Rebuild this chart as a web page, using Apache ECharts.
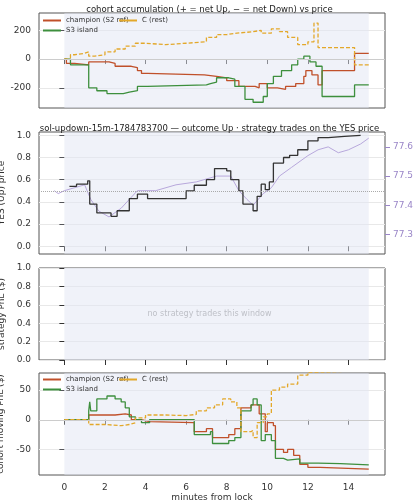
<!DOCTYPE html>
<html><head><meta charset="utf-8">
<script src="https://cdn.jsdelivr.net/npm/echarts@6/dist/echarts.min.js"></script>
<style>html,body{margin:0;padding:0;background:#fff}#c{width:419px;height:500px}</style>
</head><body><div id="c"></div>
<script>
const xTicks=[0,2,4,6,8,10,12,14];
const accChampion=[[0,0],[0.1,-30],[0.5,-40],[1.2,-20],[2.2,-30],[2.5,-50],[3.3,-60],[3.6,-80],[3.8,-100],[4.1,-110],[6.9,-120],[7.5,-130],[8.0,-150],[8.6,-190],[9.4,-200],[9.6,-170],[10.0,-200],[10.5,-210],[10.9,-190],[11.4,-170],[11.8,-120],[11.9,-80],[12.2,-110],[12.5,-180],[12.7,-80],[14.3,40],[15,40]];
const accS3=[[0,0],[0.3,-40],[1.2,-200],[1.6,-220],[2.1,-240],[2.9,-230],[3.2,-220],[3.6,-190],[4.1,-180],[7.0,-170],[7.2,-160],[7.5,-130],[8.1,-140],[8.4,-190],[8.9,-280],[9.3,-300],[9.8,-260],[10.0,-170],[10.3,-120],[10.7,-80],[11.2,-40],[11.5,0],[11.8,20],[12.1,-20],[12.4,-50],[12.7,-260],[14.3,-180],[15,-180]];
const accC=[[0,0],[0.2,10],[0.3,30],[0.5,40],[1.0,50],[1.2,20],[1.5,30],[2.0,50],[2.5,70],[3.0,90],[3.5,110],[4.0,100],[5.0,110],[6.0,120],[7.0,150],[7.5,170],[8.0,180],[8.5,190],[9.3,200],[9.7,180],[10.2,210],[10.6,190],[11.0,150],[11.5,100],[12.0,120],[12.3,250],[12.5,80],[14.3,-40],[15,-40]];
const yesPrice=[[0.25,0.54],[0.6,0.56],[1.15,0.59],[1.25,0.38],[1.6,0.30],[2.3,0.27],[2.6,0.32],[3.2,0.43],[3.6,0.47],[4.1,0.43],[6.0,0.50],[6.4,0.55],[7.0,0.60],[7.4,0.70],[8.0,0.68],[8.2,0.60],[8.6,0.50],[8.8,0.38],[9.3,0.32],[9.5,0.45],[9.7,0.56],[9.9,0.51],[10.1,0.58],[10.3,0.75],[10.8,0.80],[11.1,0.82],[11.5,0.87],[12.0,0.95],[12.5,0.98],[13.0,0.99],[13.8,1.0],[14.6,1.0]];
const solPrice=[[-0.5,77.45],[-0.3,77.44],[0,77.45],[1.0,77.47],[1.3,77.42],[1.7,77.38],[2.2,77.36],[2.8,77.39],[3.2,77.42],[3.6,77.45],[4.5,77.45],[5.5,77.47],[6.5,77.48],[7.5,77.50],[8.2,77.50],[8.6,77.45],[9.0,77.42],[9.3,77.40],[9.8,77.44],[10.2,77.46],[10.6,77.50],[11.2,77.53],[12.0,77.57],[12.5,77.59],[13.0,77.60],[13.5,77.58],[14.0,77.59],[14.6,77.61],[15.0,77.63]];
const pnlChampion=[[0,0],[1.2,8],[2.5,10],[3.0,8],[3.3,0],[3.8,-3],[4.2,-5],[6.4,-20],[7.0,-15],[7.3,-30],[8.1,-25],[8.4,-15],[8.7,20],[9.2,25],[9.6,10],[9.9,-20],[10.0,-5],[10.3,-10],[10.4,-50],[10.8,-55],[11.0,-50],[11.3,-60],[11.6,-75],[12.0,-80],[12.6,-83],[15,-83]];
const pnlS3=[[0,0],[1.2,15],[1.25,30],[1.3,15],[1.6,35],[2.1,40],[2.5,35],[2.8,30],[3.0,20],[3.2,5],[3.5,0],[3.8,-5],[4.2,0],[6.4,-25],[7.2,-20],[7.3,-40],[8.1,-35],[8.4,-30],[8.7,15],[9.2,25],[9.3,35],[9.5,25],[9.7,-35],[9.9,-25],[10.2,-35],[10.4,-65],[10.8,-68],[11.0,-66],[11.6,-73],[12.5,-74],[13.6,-76],[15,-77]];
const pnlC=[[0,0],[1.2,-8],[2.0,-10],[2.8,-8],[3.2,-5],[3.5,3],[4.0,8],[5.0,7],[6.0,9],[6.5,15],[7.0,20],[7.4,25],[7.8,35],[8.2,30],[8.5,20],[8.7,-20],[9.2,-18],[9.3,-30],[9.5,-5],[9.8,5],[10.0,10],[10.2,50],[10.6,55],[11.0,60],[11.5,75],[12.0,80],[12.6,83],[15,85]];

const cCh='#c0502a',cS3='#3d8f3d',cC='#e3a82a',font='DejaVu Sans';
const tops=[13,132,268,373],hs=[95,122,92,102];
const grid=tops.map((t,i)=>({left:39,right:34,top:t,height:hs[i],show:true,backgroundColor:'#fff',borderColor:'#555',borderWidth:1,outerBoundsMode:'none',containLabel:false}));
const xAxis=tops.map((t,i)=>({gridIndex:i,type:'value',min:-1.25,max:15.8,
  axisLine:{show:false},axisTick:{show:true,customValues:xTicks,lineStyle:{color:'#333'}},
  axisLabel:{show:i===3,customValues:xTicks,color:'#333',fontSize:9,fontFamily:font},
  splitLine:{show:false},
  name:i===3?'minutes from lock':'',nameLocation:'middle',nameGap:16,nameTextStyle:{fontSize:9,color:'#333',fontFamily:font}}));
const yBase={type:'value',axisLine:{show:false},axisTick:{show:true,lineStyle:{color:'#333'}},
  axisLabel:{color:'#333',fontSize:9,fontFamily:font},splitLine:{show:true,lineStyle:{color:'#e8e8e8'}},
  nameLocation:'middle',nameTextStyle:{fontSize:9,color:'#333',fontFamily:font}};
const yAxis=[
 Object.assign({},yBase,{gridIndex:0,min:-340,max:320,axisLabel:Object.assign({},yBase.axisLabel,{customValues:[-200,0,200]}),axisTick:{show:true,customValues:[-200,0,200]},name:'acc. net YES (shares)',nameGap:26}),
 Object.assign({},yBase,{gridIndex:1,min:-0.07,max:1.03,axisLabel:Object.assign({},yBase.axisLabel,{customValues:[0,0.2,0.4,0.6,0.8,1.0],formatter:v=>v.toFixed(1)}),axisTick:{show:true,customValues:[0,0.2,0.4,0.6,0.8,1.0]},name:'YES (Up) price',nameGap:24}),
 Object.assign({},yBase,{gridIndex:1,position:'right',min:77.233,max:77.651,splitLine:{show:false},axisLabel:{color:'#9a86c8',fontSize:9,fontFamily:font,customValues:[77.3,77.4,77.5,77.6],formatter:v=>v.toFixed(1)},axisTick:{show:true,customValues:[77.3,77.4,77.5,77.6],lineStyle:{color:'#9a86c8'}},name:'SOL/USD (strike dotted = YES 0.5)',nameGap:28,nameTextStyle:{fontSize:7,color:'#9a86c8',fontFamily:font}}),
 Object.assign({},yBase,{gridIndex:2,min:0,max:1,interval:0.2,axisLabel:Object.assign({},yBase.axisLabel,{formatter:v=>v.toFixed(1)}),name:'strategy PnL ($)',nameGap:24}),
 Object.assign({},yBase,{gridIndex:3,min:-93,max:78.7,axisLabel:Object.assign({},yBase.axisLabel,{customValues:[-50,0,50]}),axisTick:{show:true,customValues:[-50,0,50]},name:'cohort moving PnL ($)',nameGap:22})
];
const shade=()=>({silent:true,itemStyle:{color:'rgba(225,230,243,0.5)'},data:[[{xAxis:0},{xAxis:15}]]});
const zero={silent:true,symbol:'none',label:{show:false},lineStyle:{color:'#ccc',type:'solid',width:1},data:[{yAxis:0}]};
function ln(name,data,xi,yi,color,dashed,extra){return Object.assign({type:'line',name,data,xAxisIndex:xi,yAxisIndex:yi,step:'end',showSymbol:false,symbol:'none',
 lineStyle:{color,width:1.3,type:dashed?[4,2]:'solid'},itemStyle:{color}},extra||{});}
const series=[
 ln('champion (S2 ref)',accChampion,0,0,cCh,false,{markArea:shade(),markLine:zero}),
 ln('S3 island',accS3,0,0,cS3),
 ln('C (rest)',accC,0,0,cC,true),
 ln('SOL',solPrice,1,2,'#b8a8dc',false,{step:false,lineStyle:{color:'#b8a8dc',width:1}}),
 ln('YES',yesPrice,1,1,'#333',false,{markArea:shade(),markLine:{silent:true,symbol:'none',label:{show:false},lineStyle:{color:'#aaa',type:'dotted',width:1},data:[{yAxis:0.5}]}}),
 {type:'line',data:[],xAxisIndex:2,yAxisIndex:3,markArea:shade()},
 ln('champion (S2 ref)',pnlChampion,3,4,cCh,false,{markArea:shade(),markLine:zero}),
 ln('S3 island',pnlS3,3,4,cS3),
 ln('C (rest)',pnlC,3,4,cC,true)
];
const legItem={itemWidth:18,itemHeight:2,itemGap:3,textStyle:{fontSize:7,color:'#333',fontFamily:font},icon:'rect',padding:1};
const chart=echarts.init(document.getElementById('c'),null,{renderer:'canvas'});
chart.setOption({animation:false,
 title:[{text:'cohort accumulation (+ = net Up, − = net Down) vs price',left:'center',top:0,textStyle:{fontSize:8.5,fontWeight:'normal',color:'#222',fontFamily:font}},
  {text:'sol-updown-15m-1784783700 — outcome Up · strategy trades on the YES price',left:'center',top:119,textStyle:{fontSize:8.5,fontWeight:'normal',color:'#222',fontFamily:font}}],
 legend:[Object.assign({},legItem,{orient:'vertical',left:42,top:16,data:['champion (S2 ref)','S3 island']}),
  Object.assign({},legItem,{left:118,top:16,data:['C (rest)']}),
  Object.assign({},legItem,{orient:'vertical',left:42,top:375,data:['champion (S2 ref)','S3 island']}),
  Object.assign({},legItem,{left:118,top:375,data:['C (rest)']})],
 grid,xAxis,yAxis,series,
 graphic:[{type:'text',left:'center',top:310,style:{text:'no strategy trades this window',fill:'#999',fontSize:8,fontFamily:font}}]
});
</script></body></html>
